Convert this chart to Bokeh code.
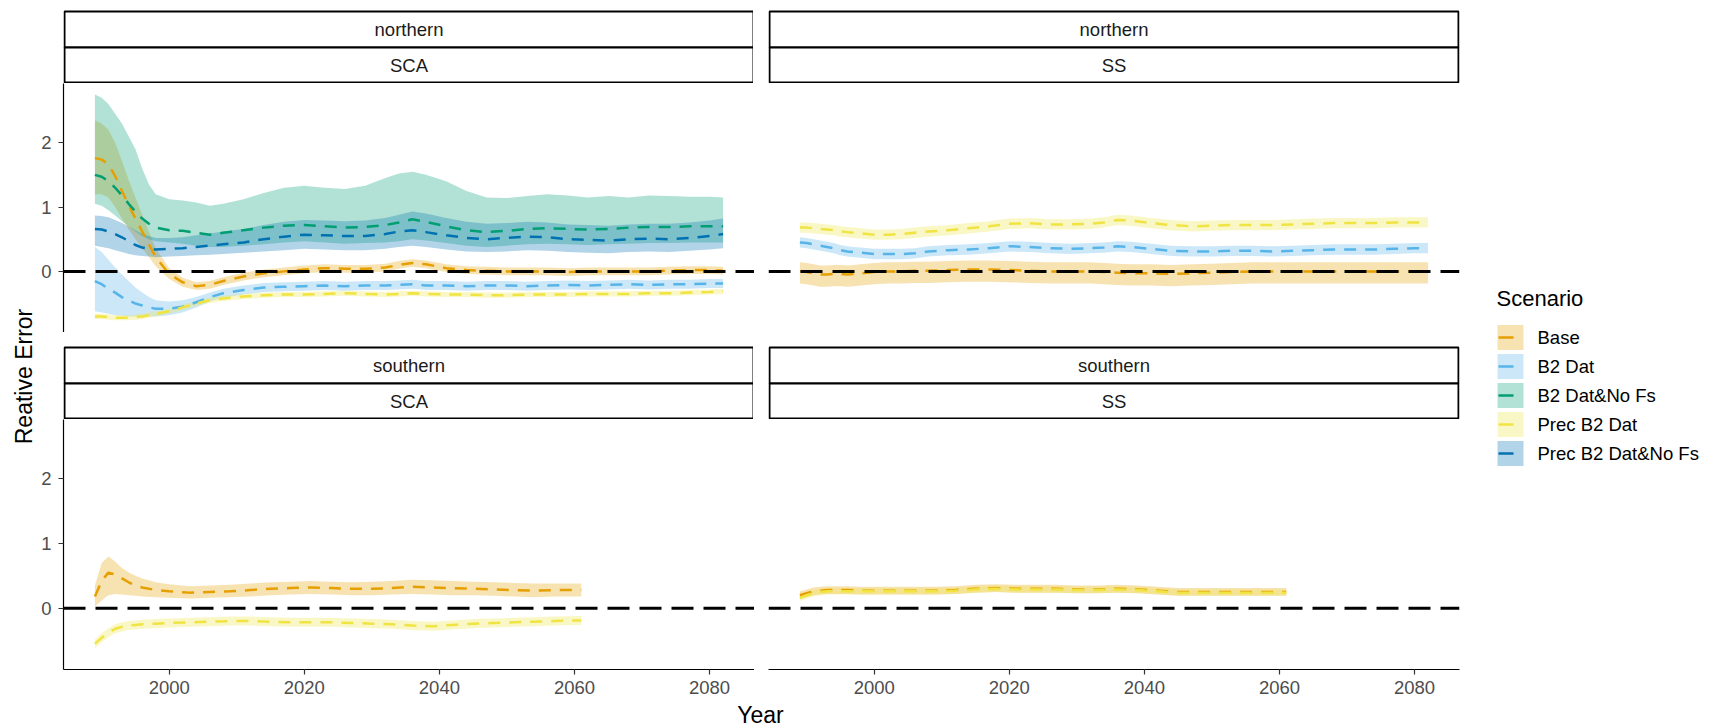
import math
from bokeh.plotting import figure
from bokeh.models import Range1d, FixedTicker, Span
from bokeh.layouts import row, column
from bokeh.embed import file_html
from bokeh.resources import INLINE
from bokeh.core.properties import value

# ---------------- data ----------------
SCENARIOS = ["Base", "B2 Dat", "B2 Dat&No Fs", "Prec B2 Dat", "Prec B2 Dat&No Fs"]
COLORS = ["#E69F00", "#56B4E9", "#009E73", "#F0E442", "#0072B2"]
X_TICKS = [2000, 2020, 2040, 2060, 2080]
Y_TICKS = [0, 1, 2]

N_YEARS = [1989, 1990, 1991, 1992, 1993, 1994, 1995, 1996, 1997, 1998, 2000, 2002, 2004, 2006, 2008, 2011,
           2014, 2017, 2020, 2023, 2026, 2029, 2032, 2034, 2036, 2038, 2041, 2044, 2047, 2050, 2053, 2056,
           2059, 2062, 2065, 2068, 2071, 2074, 2077, 2080, 2082]
S_YEARS = [1989, 1990, 1991, 1992, 1993, 1994, 1995, 1996, 1998, 2000, 2003, 2006, 2009, 2012, 2015, 2018,
           2021, 2024, 2027, 2030, 2033, 2036, 2039, 2042, 2045, 2048, 2051, 2054, 2057, 2060, 2061]

# northern / SCA
N_SCA_BASE = [1.76, 1.74, 1.66, 1.48, 1.25, 1.03, 0.82, 0.62, 0.42, 0.22, -0.04, -0.17, -0.23, -0.21, -0.15, -0.08,
              -0.03, 0.0, 0.03, 0.05, 0.04, 0.04, 0.06, 0.1, 0.13, 0.11, 0.05, 0.02, 0.01, 0.0, 0.0, 0.0,
              -0.01, 0.0, 0.0, 0.0, 0.0, 0.01, 0.02, 0.02, 0.01]
N_SCA_BASE_LO = [1.2, 1.2, 1.15, 1.0, 0.82, 0.65, 0.5, 0.36, 0.22, 0.08, -0.12, -0.24, -0.29, -0.27, -0.21, -0.14,
                 -0.09, -0.06, -0.03, -0.01, -0.02, -0.02, 0.0, 0.04, 0.07, 0.05, -0.01, -0.04, -0.05, -0.06, -0.06, -0.06,
                 -0.07, -0.06, -0.06, -0.06, -0.06, -0.05, -0.04, -0.04, -0.05]
N_SCA_BASE_HI = [2.35, 2.3, 2.2, 2.0, 1.72, 1.42, 1.15, 0.88, 0.62, 0.36, 0.05, -0.1, -0.17, -0.15, -0.09, -0.02,
                 0.03, 0.06, 0.09, 0.11, 0.1, 0.1, 0.12, 0.16, 0.19, 0.17, 0.11, 0.08, 0.07, 0.06, 0.06, 0.06,
                 0.05, 0.06, 0.06, 0.06, 0.06, 0.07, 0.08, 0.08, 0.07]
N_SCA_B2 = [-0.15, -0.2, -0.27, -0.33, -0.4, -0.45, -0.5, -0.53, -0.56, -0.58, -0.58, -0.55, -0.48, -0.4, -0.34, -0.29,
            -0.25, -0.24, -0.23, -0.22, -0.23, -0.22, -0.22, -0.21, -0.2, -0.22, -0.22, -0.23, -0.22, -0.22, -0.23, -0.22,
            -0.21, -0.22, -0.21, -0.2, -0.21, -0.2, -0.2, -0.19, -0.19]
N_SCA_B2_LO = [-0.62, -0.64, -0.66, -0.68, -0.69, -0.7, -0.7, -0.7, -0.7, -0.7, -0.68, -0.64, -0.56, -0.47, -0.41, -0.36,
               -0.32, -0.31, -0.3, -0.29, -0.3, -0.29, -0.29, -0.28, -0.27, -0.29, -0.29, -0.3, -0.29, -0.29, -0.3, -0.29,
               -0.28, -0.29, -0.28, -0.27, -0.28, -0.27, -0.27, -0.26, -0.26]
N_SCA_B2_HI = [0.38, 0.3, 0.18, 0.06, -0.05, -0.15, -0.25, -0.33, -0.4, -0.45, -0.47, -0.45, -0.4, -0.33, -0.27, -0.22,
               -0.18, -0.17, -0.16, -0.15, -0.16, -0.15, -0.15, -0.14, -0.13, -0.15, -0.15, -0.16, -0.15, -0.15, -0.16, -0.15,
               -0.14, -0.15, -0.14, -0.13, -0.14, -0.13, -0.13, -0.12, -0.12]
N_SCA_B2NF = [1.5, 1.47, 1.4, 1.3, 1.18, 1.05, 0.93, 0.82, 0.74, 0.68, 0.64, 0.63, 0.6, 0.57, 0.6, 0.64,
              0.68, 0.71, 0.72, 0.7, 0.68, 0.69, 0.72, 0.76, 0.81, 0.77, 0.7, 0.64, 0.61, 0.63, 0.66, 0.67,
              0.66, 0.65, 0.66, 0.68, 0.69, 0.69, 0.7, 0.7, 0.7]
N_SCA_B2NF_LO = [1.05, 1.02, 0.95, 0.87, 0.78, 0.7, 0.62, 0.55, 0.5, 0.47, 0.45, 0.43, 0.4, 0.38, 0.38, 0.4,
                 0.42, 0.45, 0.47, 0.45, 0.43, 0.44, 0.45, 0.47, 0.5, 0.48, 0.44, 0.4, 0.38, 0.4, 0.42, 0.43,
                 0.42, 0.41, 0.42, 0.43, 0.44, 0.44, 0.45, 0.45, 0.45]
N_SCA_B2NF_HI = [2.75, 2.7, 2.6, 2.45, 2.3, 2.1, 1.9, 1.6, 1.35, 1.2, 1.12, 1.1, 1.07, 1.02, 1.05, 1.12,
                 1.22, 1.3, 1.33, 1.3, 1.28, 1.33, 1.45, 1.52, 1.55, 1.5, 1.4, 1.25, 1.15, 1.14, 1.17, 1.2,
                 1.18, 1.15, 1.17, 1.15, 1.18, 1.17, 1.16, 1.16, 1.15]
N_SCA_PREC = [-0.7, -0.7, -0.71, -0.72, -0.72, -0.72, -0.71, -0.7, -0.68, -0.66, -0.62, -0.56, -0.5, -0.45, -0.42, -0.39,
              -0.37, -0.36, -0.36, -0.35, -0.34, -0.35, -0.36, -0.35, -0.34, -0.35, -0.36, -0.36, -0.37, -0.37, -0.36, -0.36,
              -0.36, -0.35, -0.35, -0.35, -0.34, -0.34, -0.33, -0.32, -0.31]
N_SCA_PREC_LO = [-0.74, -0.74, -0.75, -0.76, -0.76, -0.76, -0.75, -0.74, -0.72, -0.7, -0.66, -0.6, -0.54, -0.49, -0.46, -0.43,
                 -0.41, -0.4, -0.4, -0.39, -0.38, -0.39, -0.4, -0.39, -0.38, -0.39, -0.4, -0.4, -0.41, -0.41, -0.4, -0.4,
                 -0.4, -0.39, -0.39, -0.39, -0.38, -0.38, -0.37, -0.36, -0.35]
N_SCA_PREC_HI = [-0.66, -0.66, -0.67, -0.68, -0.68, -0.68, -0.67, -0.66, -0.64, -0.62, -0.58, -0.52, -0.46, -0.41, -0.38, -0.35,
                 -0.33, -0.32, -0.32, -0.31, -0.3, -0.31, -0.32, -0.31, -0.3, -0.31, -0.32, -0.32, -0.33, -0.33, -0.32, -0.32,
                 -0.32, -0.31, -0.31, -0.31, -0.3, -0.3, -0.29, -0.28, -0.27]
N_SCA_PNF = [0.66, 0.65, 0.62, 0.58, 0.53, 0.47, 0.41, 0.37, 0.35, 0.34, 0.35, 0.36, 0.38, 0.4, 0.42, 0.45,
             0.5, 0.54, 0.57, 0.56, 0.55, 0.55, 0.58, 0.62, 0.64, 0.61, 0.56, 0.52, 0.5, 0.52, 0.54, 0.53,
             0.5, 0.49, 0.48, 0.5, 0.51, 0.5, 0.52, 0.55, 0.58]
N_SCA_PNF_LO = [0.4, 0.38, 0.36, 0.33, 0.3, 0.27, 0.25, 0.24, 0.23, 0.22, 0.23, 0.24, 0.25, 0.26, 0.27, 0.29,
                0.31, 0.33, 0.35, 0.34, 0.33, 0.33, 0.35, 0.38, 0.4, 0.38, 0.34, 0.31, 0.3, 0.31, 0.33, 0.32,
                0.3, 0.29, 0.28, 0.3, 0.31, 0.3, 0.32, 0.34, 0.36]
N_SCA_PNF_HI = [0.87, 0.86, 0.84, 0.8, 0.75, 0.7, 0.64, 0.58, 0.55, 0.52, 0.52, 0.53, 0.56, 0.59, 0.62, 0.66,
                0.72, 0.77, 0.8, 0.79, 0.78, 0.79, 0.83, 0.88, 0.93, 0.9, 0.83, 0.77, 0.74, 0.75, 0.77, 0.76,
                0.73, 0.72, 0.71, 0.73, 0.74, 0.74, 0.76, 0.79, 0.82]

# northern / SS
N_SS_BASE = [0.0, -0.01, -0.03, -0.05, -0.05, -0.04, -0.04, -0.05, -0.04, -0.03, -0.01, 0.0, 0.0, 0.01, 0.01, 0.02,
             0.03, 0.03, 0.02, 0.01, 0.0, 0.0, 0.0, -0.01, -0.02, -0.03, -0.03, -0.04, -0.03, -0.02, -0.01, 0.0,
             0.0, 0.0, 0.0, 0.0, 0.0, 0.0, 0.0, 0.0, 0.0]
N_SS_BASE_LO = [-0.19, -0.2, -0.22, -0.24, -0.24, -0.23, -0.23, -0.24, -0.23, -0.22, -0.2, -0.19, -0.19, -0.18, -0.18, -0.17,
                -0.16, -0.16, -0.17, -0.18, -0.19, -0.19, -0.19, -0.2, -0.21, -0.22, -0.22, -0.23, -0.22, -0.21, -0.2, -0.19,
                -0.19, -0.19, -0.19, -0.19, -0.19, -0.19, -0.19, -0.19, -0.19]
N_SS_BASE_HI = [0.14, 0.13, 0.11, 0.09, 0.09, 0.1, 0.1, 0.09, 0.1, 0.11, 0.13, 0.14, 0.14, 0.15, 0.15, 0.16,
                0.17, 0.17, 0.16, 0.15, 0.14, 0.14, 0.14, 0.13, 0.12, 0.11, 0.11, 0.1, 0.11, 0.12, 0.13, 0.14,
                0.14, 0.14, 0.14, 0.14, 0.14, 0.14, 0.14, 0.14, 0.14]
N_SS_B2 = [0.45, 0.44, 0.42, 0.4, 0.38, 0.36, 0.33, 0.31, 0.3, 0.29, 0.27, 0.27, 0.27, 0.28, 0.31, 0.33,
           0.34, 0.36, 0.39, 0.38, 0.36, 0.35, 0.36, 0.37, 0.39, 0.38, 0.35, 0.32, 0.31, 0.31, 0.32, 0.32,
           0.31, 0.32, 0.33, 0.34, 0.34, 0.34, 0.35, 0.36, 0.36]
N_SS_B2_LO = [0.37, 0.36, 0.34, 0.32, 0.3, 0.28, 0.25, 0.23, 0.22, 0.21, 0.19, 0.19, 0.19, 0.2, 0.23, 0.25,
              0.26, 0.28, 0.31, 0.3, 0.28, 0.27, 0.28, 0.29, 0.31, 0.3, 0.27, 0.24, 0.23, 0.23, 0.24, 0.24,
              0.23, 0.24, 0.25, 0.26, 0.26, 0.26, 0.27, 0.28, 0.28]
N_SS_B2_HI = [0.53, 0.52, 0.5, 0.48, 0.46, 0.44, 0.41, 0.39, 0.38, 0.37, 0.35, 0.35, 0.35, 0.36, 0.39, 0.41,
              0.42, 0.44, 0.47, 0.46, 0.44, 0.43, 0.44, 0.45, 0.47, 0.46, 0.43, 0.4, 0.39, 0.39, 0.4, 0.4,
              0.39, 0.4, 0.41, 0.42, 0.42, 0.42, 0.43, 0.44, 0.44]
N_SS_PREC = [0.68, 0.68, 0.67, 0.66, 0.65, 0.64, 0.62, 0.61, 0.6, 0.59, 0.57, 0.57, 0.58, 0.6, 0.62, 0.64,
             0.67, 0.7, 0.74, 0.75, 0.73, 0.73, 0.74, 0.76, 0.8, 0.79, 0.75, 0.72, 0.7, 0.71, 0.72, 0.72,
             0.72, 0.73, 0.74, 0.75, 0.75, 0.75, 0.76, 0.76, 0.76]
N_SS_PREC_LO = [0.6, 0.6, 0.59, 0.58, 0.57, 0.56, 0.54, 0.53, 0.52, 0.51, 0.49, 0.49, 0.5, 0.52, 0.54, 0.56,
                0.59, 0.62, 0.66, 0.67, 0.65, 0.65, 0.66, 0.68, 0.72, 0.71, 0.67, 0.64, 0.62, 0.63, 0.64, 0.64,
                0.64, 0.65, 0.66, 0.67, 0.67, 0.67, 0.68, 0.68, 0.68]
N_SS_PREC_HI = [0.76, 0.76, 0.75, 0.74, 0.73, 0.72, 0.7, 0.69, 0.68, 0.67, 0.65, 0.65, 0.66, 0.68, 0.7, 0.72,
                0.75, 0.78, 0.82, 0.83, 0.81, 0.81, 0.82, 0.84, 0.88, 0.87, 0.83, 0.8, 0.78, 0.79, 0.8, 0.8,
                0.8, 0.81, 0.82, 0.83, 0.83, 0.83, 0.84, 0.84, 0.84]

# southern / SCA
S_SCA_BASE = [0.18, 0.42, 0.55, 0.52, 0.46, 0.4, 0.35, 0.32, 0.28, 0.26, 0.24, 0.25, 0.26, 0.28, 0.3, 0.31,
              0.32, 0.31, 0.3, 0.3, 0.31, 0.33, 0.32, 0.31, 0.3, 0.29, 0.28, 0.27, 0.28, 0.28, 0.28]
S_SCA_BASE_LO = [0.02, 0.12, 0.2, 0.22, 0.21, 0.2, 0.19, 0.18, 0.17, 0.16, 0.15, 0.16, 0.17, 0.18, 0.2, 0.21,
                 0.22, 0.21, 0.2, 0.2, 0.21, 0.22, 0.21, 0.2, 0.2, 0.19, 0.18, 0.17, 0.18, 0.18, 0.18]
S_SCA_BASE_HI = [0.35, 0.7, 0.8, 0.72, 0.62, 0.55, 0.5, 0.46, 0.4, 0.37, 0.34, 0.35, 0.36, 0.38, 0.4, 0.41,
                 0.42, 0.41, 0.4, 0.41, 0.42, 0.44, 0.43, 0.42, 0.41, 0.4, 0.39, 0.38, 0.38, 0.38, 0.38]
S_SCA_PREC = [-0.55, -0.46, -0.38, -0.32, -0.29, -0.27, -0.26, -0.25, -0.24, -0.23, -0.22, -0.21, -0.2, -0.2, -0.21, -0.22,
              -0.22, -0.22, -0.23, -0.24, -0.25, -0.27, -0.28, -0.26, -0.24, -0.23, -0.22, -0.21, -0.2, -0.19, -0.19]
S_SCA_PREC_LO = [-0.62, -0.53, -0.45, -0.39, -0.36, -0.34, -0.33, -0.32, -0.31, -0.3, -0.29, -0.28, -0.27, -0.27, -0.28, -0.29,
                 -0.29, -0.29, -0.3, -0.31, -0.32, -0.34, -0.35, -0.33, -0.31, -0.3, -0.29, -0.28, -0.27, -0.26, -0.26]
S_SCA_PREC_HI = [-0.48, -0.39, -0.31, -0.25, -0.22, -0.2, -0.19, -0.18, -0.17, -0.16, -0.15, -0.14, -0.13, -0.13, -0.14, -0.15,
                 -0.15, -0.15, -0.16, -0.17, -0.18, -0.2, -0.21, -0.19, -0.17, -0.16, -0.15, -0.14, -0.13, -0.12, -0.12]

# southern / SS
S_SS_BASE = [0.2, 0.23, 0.26, 0.27, 0.28, 0.28, 0.28, 0.28, 0.27, 0.27, 0.27, 0.27, 0.27, 0.28, 0.3, 0.31,
             0.3, 0.3, 0.3, 0.29, 0.29, 0.3, 0.29, 0.27, 0.25, 0.25, 0.25, 0.25, 0.25, 0.25, 0.25]
S_SS_BASE_LO = [0.14, 0.17, 0.2, 0.21, 0.22, 0.22, 0.22, 0.22, 0.21, 0.21, 0.21, 0.21, 0.21, 0.22, 0.24, 0.25,
                0.24, 0.24, 0.24, 0.23, 0.23, 0.24, 0.23, 0.21, 0.19, 0.19, 0.19, 0.19, 0.19, 0.19, 0.19]
S_SS_BASE_HI = [0.26, 0.29, 0.32, 0.33, 0.34, 0.34, 0.34, 0.34, 0.33, 0.33, 0.33, 0.33, 0.33, 0.34, 0.36, 0.37,
                0.36, 0.36, 0.36, 0.35, 0.35, 0.36, 0.35, 0.33, 0.31, 0.31, 0.31, 0.31, 0.31, 0.31, 0.31]
S_SS_PREC = [0.16, 0.2, 0.23, 0.25, 0.26, 0.26, 0.26, 0.26, 0.26, 0.26, 0.26, 0.26, 0.26, 0.27, 0.29, 0.3,
             0.29, 0.29, 0.29, 0.28, 0.28, 0.29, 0.28, 0.26, 0.24, 0.24, 0.24, 0.24, 0.24, 0.24, 0.24]
S_SS_PREC_LO = [0.11, 0.15, 0.18, 0.2, 0.21, 0.21, 0.21, 0.21, 0.21, 0.21, 0.21, 0.21, 0.21, 0.22, 0.24, 0.25,
                0.24, 0.24, 0.24, 0.23, 0.23, 0.24, 0.23, 0.21, 0.19, 0.19, 0.19, 0.19, 0.19, 0.19, 0.19]
S_SS_PREC_HI = [0.21, 0.25, 0.28, 0.3, 0.31, 0.31, 0.31, 0.31, 0.31, 0.31, 0.31, 0.31, 0.31, 0.32, 0.34, 0.35,
                0.34, 0.34, 0.34, 0.33, 0.33, 0.34, 0.33, 0.31, 0.29, 0.29, 0.29, 0.29, 0.29, 0.29, 0.29]

PANELS = {
    ("northern", "SCA"): [("Base", N_YEARS, N_SCA_BASE, N_SCA_BASE_LO, N_SCA_BASE_HI),
                          ("B2 Dat", N_YEARS, N_SCA_B2, N_SCA_B2_LO, N_SCA_B2_HI),
                          ("B2 Dat&No Fs", N_YEARS, N_SCA_B2NF, N_SCA_B2NF_LO, N_SCA_B2NF_HI),
                          ("Prec B2 Dat", N_YEARS, N_SCA_PREC, N_SCA_PREC_LO, N_SCA_PREC_HI),
                          ("Prec B2 Dat&No Fs", N_YEARS, N_SCA_PNF, N_SCA_PNF_LO, N_SCA_PNF_HI)],
    ("northern", "SS"): [("Base", N_YEARS, N_SS_BASE, N_SS_BASE_LO, N_SS_BASE_HI),
                         ("B2 Dat", N_YEARS, N_SS_B2, N_SS_B2_LO, N_SS_B2_HI),
                         ("Prec B2 Dat", N_YEARS, N_SS_PREC, N_SS_PREC_LO, N_SS_PREC_HI)],
    ("southern", "SCA"): [("Base", S_YEARS, S_SCA_BASE, S_SCA_BASE_LO, S_SCA_BASE_HI),
                          ("Prec B2 Dat", S_YEARS, S_SCA_PREC, S_SCA_PREC_LO, S_SCA_PREC_HI)],
    ("southern", "SS"): [("Base", S_YEARS, S_SS_BASE, S_SS_BASE_LO, S_SS_BASE_HI),
                         ("Prec B2 Dat", S_YEARS, S_SS_PREC, S_SS_PREC_LO, S_SS_PREC_HI)],
}

# ---------------- styling / layout ----------------
FONT = "Liberation Sans"
SMALL = "18.5px"
BIG = "23px"
COLOR_OF = dict(zip(SCENARIOS, COLORS))
FW = 691            # panel frame width
XR = Range1d(1984.35, 2086.65)
YR = Range1d(-0.95, 2.92)


def base_fig(fw, fh, **kw):
    opts = dict(frame_width=fw, frame_height=fh, output_backend="svg", toolbar_location=None,
                outline_line_color=None, background_fill_color="white", border_fill_color="white",
                min_border_left=0, min_border_right=0, min_border_top=0, min_border_bottom=0)
    opts.update(kw)
    p = figure(**opts)
    p.grid.visible = False
    return p


def make_panel(key, fh, show_x, show_y, left, right):
    p = base_fig(FW, fh, x_range=XR, y_range=YR,
                 x_axis_location="below" if show_x else None,
                 y_axis_location="left" if show_y else None,
                 min_border_left=left, min_border_right=right,
                 min_border_bottom=32 if show_x else 0)
    series = PANELS[key]
    for name, yrs, m, lo, hi in series:
        p.varea(x=yrs, y1=lo, y2=hi, fill_color=COLOR_OF[name], fill_alpha=0.3)
    for name, yrs, m, lo, hi in series:
        p.line(x=yrs, y=m, line_color=COLOR_OF[name], line_width=2.5, line_dash="12 9")
    p.add_layout(Span(location=0, dimension="width", line_color="black",
                      line_width=3, line_dash="22 10"))
    for ax in p.axis:
        ax.axis_line_color = "black"
        ax.axis_line_width = 1.2
        ax.major_tick_line_color = "#333333"
        ax.major_tick_line_width = 1.2
        ax.major_tick_out = 5
        ax.major_tick_in = 0
        ax.minor_tick_out = 0
        ax.minor_tick_in = 0
        ax.major_label_text_font = FONT
        ax.major_label_text_font_size = SMALL
        ax.major_label_text_color = "#4D4D4D"
    if show_x:
        p.xaxis.ticker = FixedTicker(ticks=X_TICKS)
        p.xaxis.major_label_standoff = 6
    if show_y:
        p.yaxis.ticker = FixedTicker(ticks=Y_TICKS)
        p.yaxis.major_label_standoff = 7
    return p


def make_strip(labels, fh, y0, ymid, y1, left, right):
    s = base_fig(FW, fh, x_range=Range1d(0, FW), y_range=Range1d(fh, 0),
                 x_axis_location=None, y_axis_location=None,
                 min_border_left=left, min_border_right=right)
    s.quad(left=[1, 1], right=[FW - 1, FW - 1], top=[y0, ymid], bottom=[ymid, y1],
           fill_color="white", line_color="black", line_width=2)
    s.text(x=[FW / 2, FW / 2], y=[(y0 + ymid) / 2, (ymid + y1) / 2], text=labels,
           text_align="center", text_baseline="middle", text_font=value(FONT),
           text_font_size=SMALL, text_color="#1A1A1A")
    return s


LEFT_L, RIGHT_L = 24, 0
LEFT_R, RIGHT_R = 14, 10

st_tl = make_strip(["northern", "SCA"], 83, 11, 47, 82, LEFT_L, RIGHT_L)
st_tr = make_strip(["northern", "SS"], 83, 11, 47, 82, LEFT_R, RIGHT_R)
p_tl = make_panel(("northern", "SCA"), 249, False, True, LEFT_L, RIGHT_L)
p_tr = make_panel(("northern", "SS"), 249, False, False, LEFT_R, RIGHT_R)
st_bl = make_strip(["southern", "SCA"], 87, 15, 51, 86, LEFT_L, RIGHT_L)
st_br = make_strip(["southern", "SS"], 87, 15, 51, 86, LEFT_R, RIGHT_R)
p_bl = make_panel(("southern", "SCA"), 250, True, True, LEFT_L, RIGHT_L)
p_br = make_panel(("southern", "SS"), 250, True, False, LEFT_R, RIGHT_R)

TOTAL_H = 724
# y-axis title
YT_W = 38
yt = base_fig(YT_W, TOTAL_H, x_range=Range1d(0, YT_W), y_range=Range1d(TOTAL_H, 0),
              x_axis_location=None, y_axis_location=None)
yt.text(x=[23], y=[376], text=["Reative Error"], angle=math.pi / 2, text_align="center",
        text_baseline="middle", text_font=value(FONT), text_font_size=BIG, text_color="black")

# x-axis title
XT_W = 1430
XT_H = 26
xt = base_fig(XT_W, XT_H, x_range=Range1d(0, XT_W), y_range=Range1d(XT_H, 0),
              x_axis_location=None, y_axis_location=None)
xt.text(x=[722], y=[13], text=["Year"], text_align="center", text_baseline="middle",
        text_font=value(FONT), text_font_size=BIG, text_color="black")

# legend
LEG_W = 240
leg = base_fig(LEG_W, TOTAL_H, x_range=Range1d(0, LEG_W), y_range=Range1d(TOTAL_H, 0),
               x_axis_location=None, y_axis_location=None)
leg.text(x=[27], y=[298], text=["Scenario"], text_align="left", text_baseline="middle",
         text_font=value(FONT), text_font_size="22px", text_color="black")
row_y = [337 + 29 * i for i in range(len(SCENARIOS))]
leg.quad(left=[28] * len(SCENARIOS), right=[54] * len(SCENARIOS),
         top=[y - 12.5 for y in row_y], bottom=[y + 12.5 for y in row_y],
         fill_color=COLORS, fill_alpha=0.3, line_color=None)
leg.segment(x0=[29] * len(SCENARIOS), x1=[44] * len(SCENARIOS), y0=row_y, y1=row_y,
            line_color=COLORS, line_width=2.5)
leg.text(x=[68] * len(SCENARIOS), y=row_y, text=SCENARIOS, text_align="left",
         text_baseline="middle", text_font=value(FONT), text_font_size=SMALL, text_color="black")

left_col = column(st_tl, p_tl, st_bl, p_bl)
right_col = column(st_tr, p_tr, st_br, p_br)
center = column(row(left_col, right_col), xt)
layout = row(yt, center, leg)

open("out.html", "w").write(file_html(layout, INLINE))
